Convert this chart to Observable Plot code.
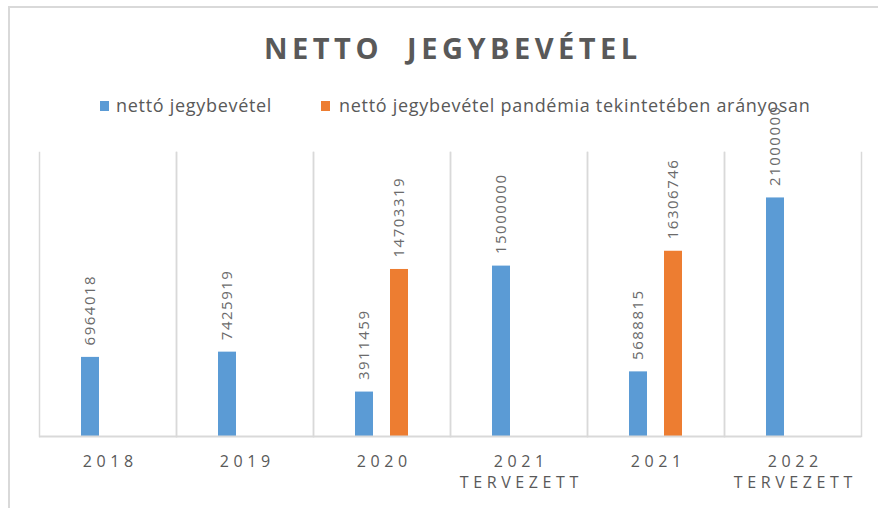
<!DOCTYPE html>
<html>
<head>
<meta charset="utf-8">
<script src="https://cdn.jsdelivr.net/npm/d3@7"></script>
<script src="https://cdn.jsdelivr.net/npm/@observablehq/plot@0.6"></script>
<style>
  html, body { margin: 0; padding: 0; background: #fff; }
  #wrap { position: relative; width: 878px; height: 508px; overflow: hidden; font-family: "Open Sans", sans-serif; color: #595959; }
  #border { position: absolute; left: 8px; top: 6px; width: 880px; height: 520px; border-top: 2px solid #d9d9d9; border-left: 2px solid #d9d9d9; }
  #title { position: absolute; left: 264px; top: 33px; font-weight: bold; font-size: 29px; line-height: 29px; letter-spacing: 4.5px; white-space: pre; }
  .lg { position: absolute; font-size: 18px; line-height: 18px; letter-spacing: 0.7px; white-space: nowrap; top: 96px; }
  .sw { position: absolute; width: 9px; height: 10px; top: 101px; }
  #chart { position: absolute; left: 0; top: 140px; }
</style>
</head>
<body>
<div id="wrap">
  <div id="border"></div>
  <div id="title">NETTO  JEGYBEVÉTEL</div>
  <div id="legend"></div>
  <div id="chart"></div>
</div>
<script>
const categories = ["2018", "2019", "2020", "2021 tervezett", "2021", "2022 tervezett"];
const categoryLabels = ["2018", "2019", "2020", "2021\nTERVEZETT", "2021", "2022\nTERVEZETT"];
const seriesNames = ["nettó jegybevétel", "nettó jegybevétel pandémia tekintetében arányosan"];
const seriesColors = ["#5b9bd5", "#ed7d31"];
const nettoValues = [6964018, 7425919, 3911459, 15000000, 5688815, 21000000];
const pandemiaValues = [null, null, 14703319, null, 16306746, null];
const yMax = 25000000;

// legend
const legend = document.getElementById("legend");
const legendX = [[100, 116], [321, 339]];
seriesNames.forEach((name, i) => {
  const sw = document.createElement("div");
  sw.className = "sw";
  sw.style.left = legendX[i][0] + "px";
  sw.style.background = seriesColors[i];
  legend.appendChild(sw);
  const t = document.createElement("div");
  t.className = "lg";
  t.style.left = legendX[i][1] + "px";
  t.textContent = name;
  legend.appendChild(t);
});

// long-format data
const data = [];
categories.forEach((c, i) => {
  if (nettoValues[i] != null) data.push({cat: c, series: seriesNames[0], value: nettoValues[i]});
  if (pandemiaValues[i] != null) data.push({cat: c, series: seriesNames[1], value: pandemiaValues[i]});
});
const labelOf = new Map(categories.map((c, i) => [c, categoryLabels[i]]));

const W = 878, H = 368;
const chart = Plot.plot({
  width: W,
  height: H,
  marginTop: 12,
  marginBottom: 72,
  marginLeft: 36,
  marginRight: 15,
  style: {fontFamily: "Open Sans, sans-serif", background: "transparent", overflow: "visible"},
  fx: {domain: categories, padding: 0, axis: null},
  x: {domain: seriesNames, paddingInner: 0.474, paddingOuter: 1.146, axis: null},
  y: {domain: [0, yMax], axis: null},
  color: {domain: seriesNames, range: seriesColors},
  marks: [
    Plot.frame({anchor: "left", stroke: "#d9d9d9", strokeWidth: 1.5}),
    Plot.frame({anchor: "right", stroke: "#d9d9d9", strokeWidth: 1.5}),
    Plot.barY(data, {fx: "cat", x: "series", y: "value", fill: "series"}),
    Plot.ruleY([0], {stroke: "#d9d9d9", strokeWidth: 2}),
    Plot.text(data, {
      fx: "cat", x: "series", y: "value",
      text: d => String(d.value),
      rotate: -90, textAnchor: "start", dy: -12,
      fill: "#6b6b6b", fontSize: 15
    }),
    Plot.text(categories, {
      fx: d => d,
      frameAnchor: "bottom",
      text: d => labelOf.get(d),
      lineAnchor: "top", lineHeight: 1.32, dy: 15, dx: 2.3,
      fill: "#595959", fontSize: 16
    })
  ]
});
document.getElementById("chart").appendChild(chart);
const textGroups = d3.select(chart).selectAll('g[aria-label="text"]');
textGroups.each(function(d, i) {
  d3.select(this).style("letter-spacing", i === 0 ? "1.5px" : "4.6px");
});
</script>
</body>
</html>
